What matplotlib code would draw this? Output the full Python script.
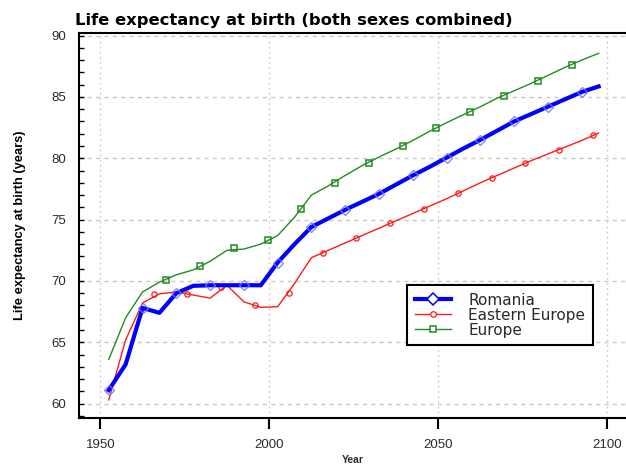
import matplotlib
matplotlib.use('Agg')
import matplotlib.pyplot as plt
from matplotlib.lines import Line2D
from matplotlib.ticker import MultipleLocator

# ---------------- data ----------------
years = [1952.5, 1957.5, 1962.5, 1967.5, 1972.5, 1977.5, 1982.5, 1987.5, 1992.5, 1997.5,
         2002.5, 2007.5, 2012.5, 2017.5, 2022.5, 2027.5, 2032.5, 2037.5, 2042.5, 2047.5,
         2052.5, 2057.5, 2062.5, 2067.5, 2072.5, 2077.5, 2082.5, 2087.5, 2092.5, 2097.5]

romania = [61.1, 63.2, 67.8, 67.4, 69.0, 69.6, 69.65, 69.65, 69.65, 69.65,
           71.5, 73.0, 74.4, 75.1, 75.8, 76.45, 77.1, 77.85, 78.6, 79.3,
           80.05, 80.8, 81.5, 82.25, 83.0, 83.6, 84.2, 84.8, 85.4, 85.85]

eastern_europe = [60.3, 65.2, 68.2, 68.95, 69.1, 68.85, 68.6, 69.65, 68.3, 67.85,
                  67.9, 69.8, 71.9, 72.5, 73.1, 73.7, 74.3, 74.9, 75.5, 76.1,
                  76.7, 77.35, 78.0, 78.6, 79.2, 79.8, 80.35, 80.9, 81.45, 82.05]

europe = [63.6, 67.0, 69.1, 69.9, 70.5, 70.9, 71.6, 72.5, 72.6, 73.0,
          73.7, 75.2, 77.0, 77.75, 78.6, 79.4, 80.1, 80.75, 81.45, 82.2,
          82.9, 83.55, 84.2, 84.9, 85.5, 86.1, 86.75, 87.4, 88.0, 88.55]

# marker positions (markers are spaced every 10 years)
eastern_marker_years = [1965.8, 1975.8, 1985.8, 1995.8, 2005.8, 2015.8, 2025.8,
                        2035.8, 2045.8, 2055.8, 2065.8, 2075.8, 2085.8, 2095.8]
eastern_marker_vals = [68.9, 68.9, 69.5, 68.0, 69.0, 72.25, 73.5,
                       74.7, 75.9, 77.15, 78.4, 79.6, 80.7, 81.9]

europe_marker_years = [1969.5, 1979.5, 1989.5, 1999.5, 2009.5, 2019.5, 2029.5,
                       2039.5, 2049.5, 2059.5, 2069.5, 2079.5, 2089.5]
europe_marker_vals = [70.1, 71.2, 72.7, 73.3, 75.9, 78.0, 79.65,
                      81.0, 82.45, 83.75, 85.1, 86.3, 87.6]

series_labels = ['Romania', 'Eastern Europe', 'Europe']
x_ticks = [1950, 2000, 2050, 2100]
y_ticks = [60, 65, 70, 75, 80, 85, 90]

# ---------------- style ----------------
plt.rcParams['font.family'] = ['Liberation Sans', 'DejaVu Sans']
BLUE = '#0000ff'
RED = '#ff1a1a'
GREEN = '#228b22'
TXT = '#2a2a2a'

fig = plt.figure(figsize=(6.26, 4.66), dpi=100)
ax = fig.add_axes([0.126, 0.103, 0.874, 0.826])

# grid
for xv in x_ticks:
    ax.axvline(xv, color='#c8c8c8', lw=1.0, linestyle=(0, (1.2, 2.5)), zorder=0)
for yv in y_ticks:
    ax.axhline(yv, color='#c8c8c8', lw=1.0, linestyle=(0, (3, 3)), zorder=0)

# lines
ax.plot(years, europe, color=GREEN, lw=1.0, zorder=2)
ax.plot(europe_marker_years, europe_marker_vals, linestyle='none', marker='s',
        markersize=4.8, markerfacecolor='none', markeredgecolor=GREEN,
        markeredgewidth=1.1, zorder=3)

ax.plot(years, eastern_europe, color=RED, lw=1.0, zorder=2)
ax.plot(eastern_marker_years, eastern_marker_vals, linestyle='none', marker='o',
        markersize=3.8, markerfacecolor='none', markeredgecolor=RED,
        markeredgewidth=0.9, zorder=3)

ax.plot(years, romania, color=BLUE, lw=3.0, zorder=4,
        marker='D', markevery=2, markersize=5.2, markerfacecolor='none',
        markeredgecolor=(0.45, 0.45, 1.0, 0.85), markeredgewidth=1.0)

# axes limits / ticks
ax.set_xlim(1943.66, 2105.6)
ax.set_ylim(58.83, 90.2)
ax.set_xticks(x_ticks)
ax.set_yticks(y_ticks)
ax.yaxis.set_minor_locator(MultipleLocator(1))
ax.tick_params(axis='x', direction='out', length=8, width=1.5, colors='black',
               labelcolor=TXT, labelsize=9.5, pad=7)
ax.tick_params(axis='y', which='both', direction='in', length=3.5, width=1.0,
               colors='black', labelcolor=TXT, labelsize=9.5, pad=9)

for s in ['left', 'bottom', 'top']:
    ax.spines[s].set_linewidth(1.5)
    ax.spines[s].set_color('black')
ax.spines['right'].set_visible(False)

# texts
fig.text(0.469, 0.957, 'Life expectancy at birth (both sexes combined)',
         ha='center', va='center', fontsize=11.8, fontweight='bold', color='black',
         family=['DejaVu Sans'])
fig.text(0.032, 0.517, 'Life expectancy at birth (years)', rotation=90,
         ha='center', va='center', fontsize=9.3, fontweight='bold', color='black',
         family=['Liberation Sans Narrow', 'Liberation Sans', 'DejaVu Sans'])
fig.text(0.563, 0.012, 'Year', ha='center', va='center', fontsize=7.5,
         fontweight='bold', color=TXT)

# legend
handles = [
    Line2D([], [], color=BLUE, lw=3.0, marker='D', markersize=6,
           markerfacecolor='white', markeredgecolor=BLUE, markeredgewidth=1.1),
    Line2D([], [], color=RED, lw=1.0, marker='o', markersize=4,
           markerfacecolor='white', markeredgecolor=RED, markeredgewidth=0.9),
    Line2D([], [], color=GREEN, lw=1.0, marker='s', markersize=5,
           markerfacecolor='white', markeredgecolor=GREEN, markeredgewidth=1.1),
]
leg = ax.legend(handles, series_labels, loc='upper left',
                bbox_to_anchor=(407 / 626, 1 - 285 / 466), bbox_transform=fig.transFigure,
                frameon=True, fancybox=False, handlelength=2.4,
                handletextpad=1.1, borderpad=0.5, labelspacing=0.0,
                borderaxespad=0, numpoints=1,
                prop={'family': 'DejaVu Sans', 'size': 11})
leg.get_frame().set_edgecolor('black')
leg.get_frame().set_linewidth(1.5)
leg.get_frame().set_facecolor('white')
leg.get_frame().set_alpha(1)
for t in leg.get_texts():
    t.set_color(TXT)

fig.savefig('out.png', dpi=100)
